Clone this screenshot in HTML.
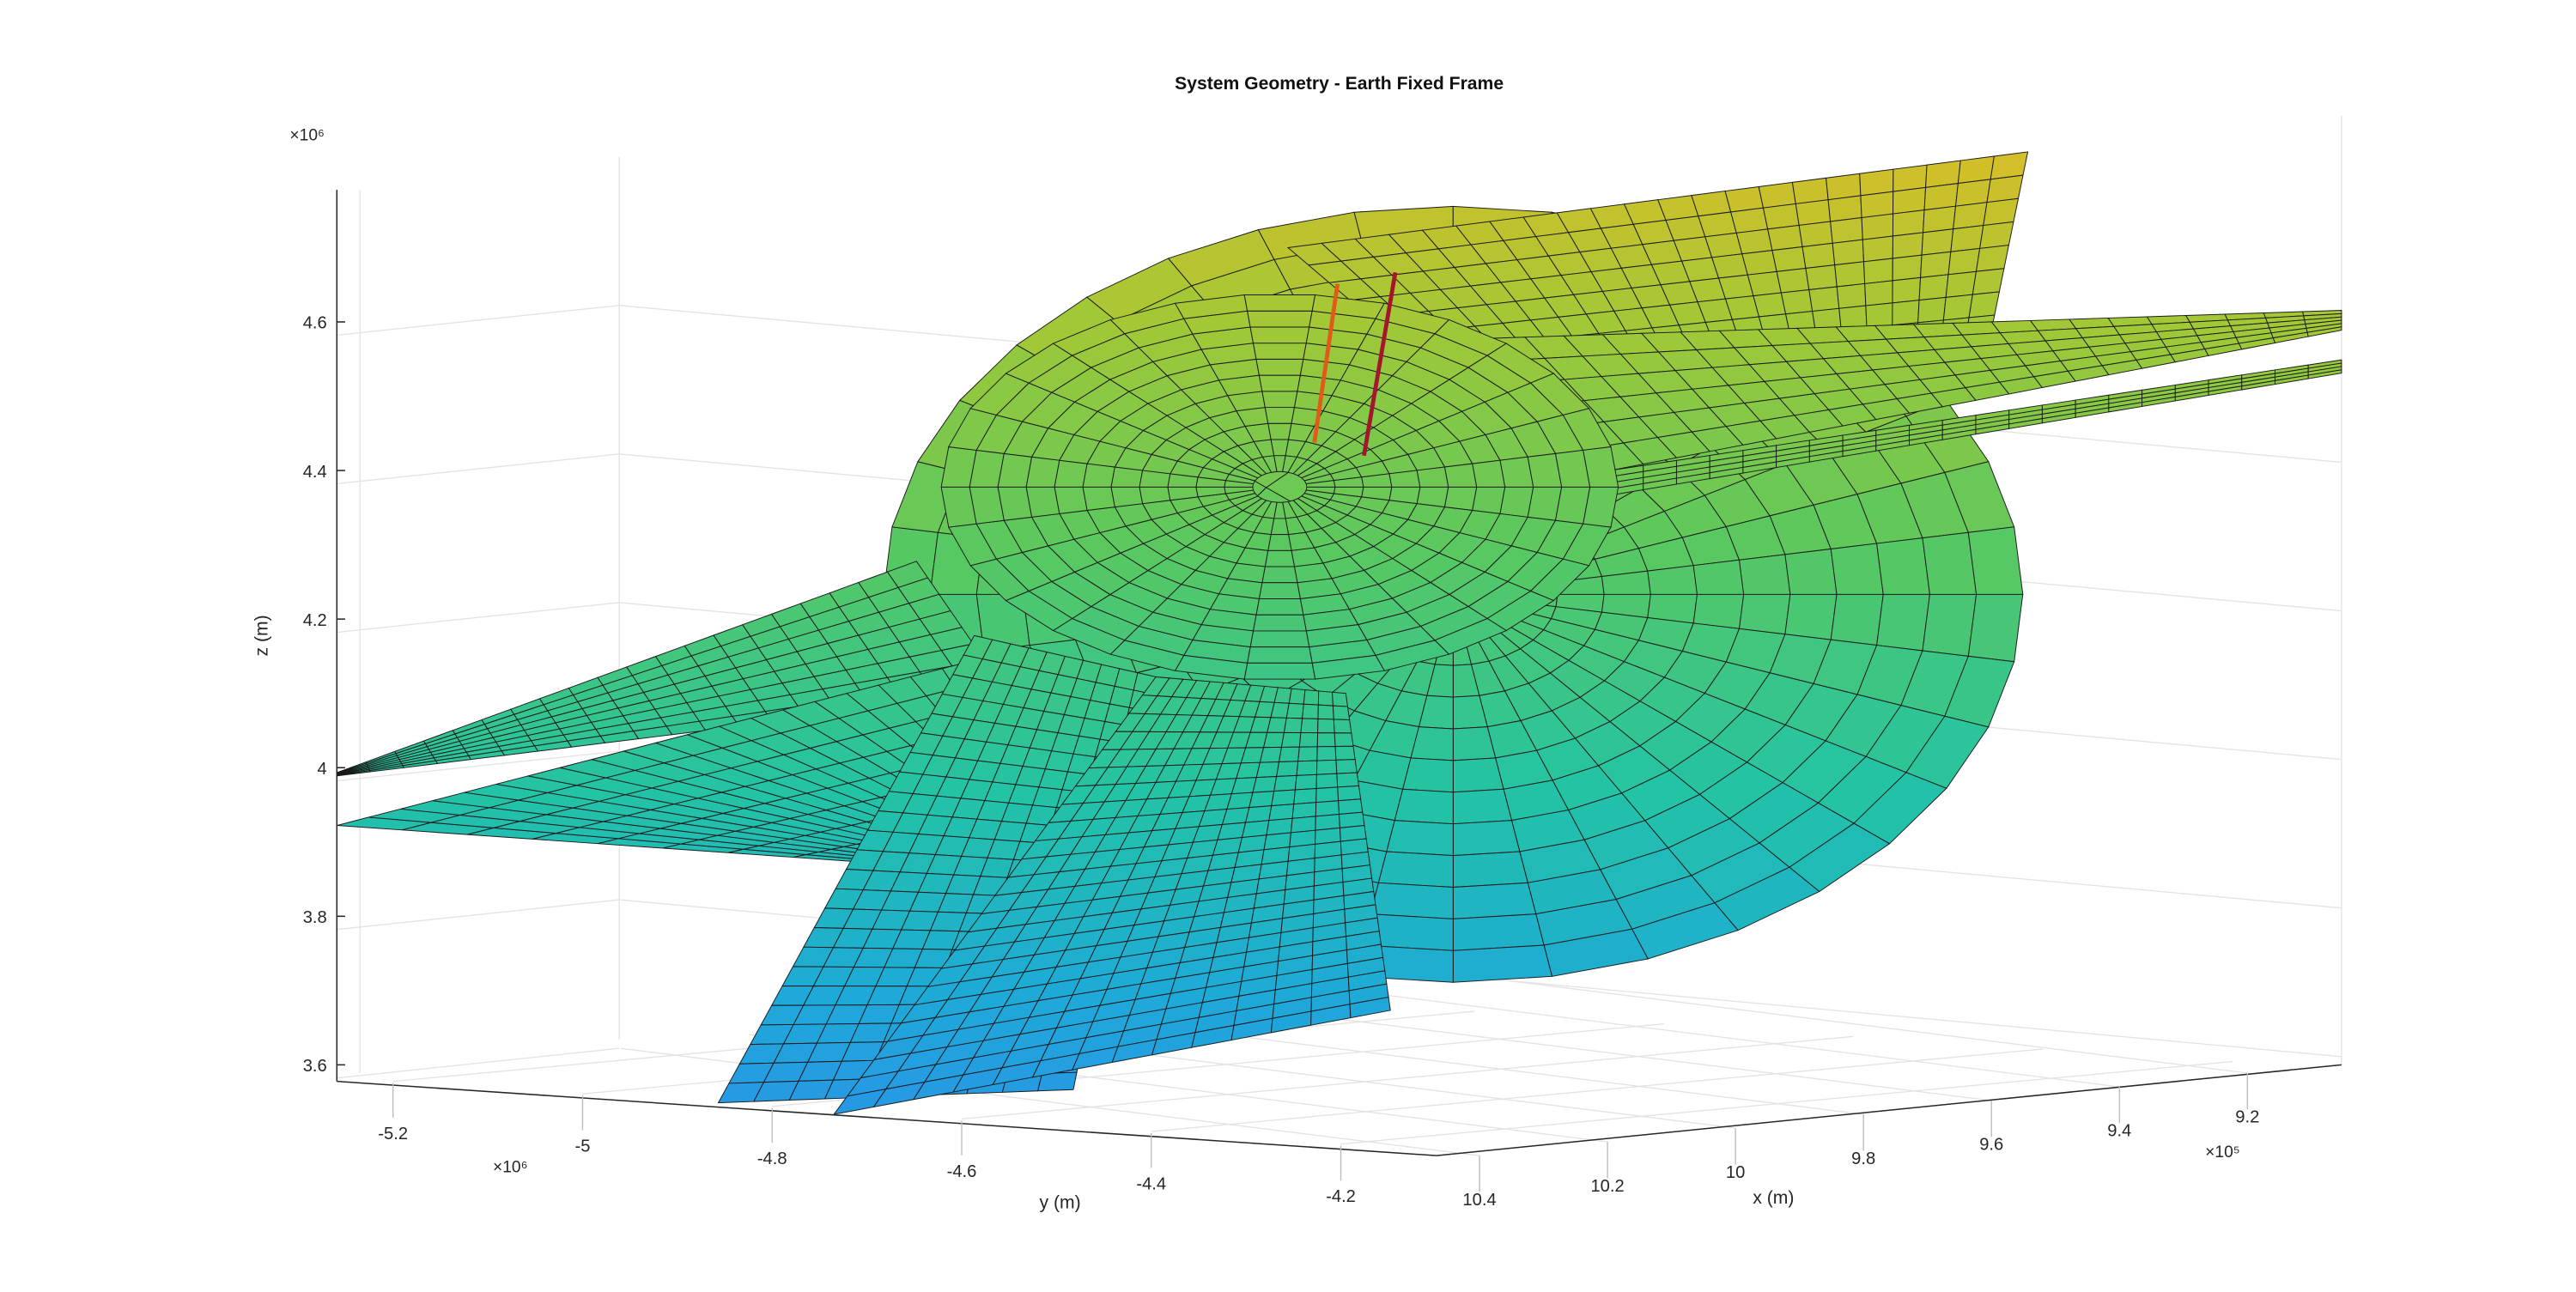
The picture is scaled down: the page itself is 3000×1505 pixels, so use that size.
<!DOCTYPE html>
<html><head><meta charset="utf-8">
<style>
html,body{margin:0;padding:0;background:#fff;}
svg{display:block;font-family:"Liberation Sans",sans-serif;}
</style></head>
<body>
<svg id="chart" width="3000" height="1505" viewBox="0 0 1560 782.6" xmlns="http://www.w3.org/2000/svg">
<rect width="1560" height="782.6" fill="#fff"/>
<g id="grid" stroke="#e3e3e3" stroke-width="0.7" fill="none"></g>
<g id="surf"></g>
<g id="axes"></g>
<text x="811" y="54" text-anchor="middle" font-size="11" font-weight="bold" fill="#111">System Geometry - Earth Fixed Frame</text>
</svg>
<script>
const zTicks=["4.6","4.4","4.2","4","3.8","3.6"];
const yTicks=["-5.2","-5","-4.8","-4.6","-4.4","-4.2"];
const yTickVals=[-5.2,-5.0,-4.8,-4.6,-4.4,-4.2];
const xTicks=["10.4","10.2","10","9.8","9.6","9.4","9.2"];
const xTickVals=[10.4,10.2,10.0,9.8,9.6,9.4,9.2];
const NS="http://www.w3.org/2000/svg";
function mk(tag,attrs,parent){const e=document.createElementNS(NS,tag);for(const k in attrs)e.setAttribute(k,attrs[k]);parent.appendChild(e);return e;}
const axes=document.getElementById('axes'),grid=document.getElementById('grid'),surf=document.getElementById('surf');
const yAx=v=>{const t=(v+5.2)/1.0;return [238+t*(812-238),655+t*38];};
const xAx=v=>{const t=(10.4-v)/1.2;return [896+t*(1361-896),700-t*50];};
const zAx=v=>375+(4.2-v)*450;
for(let i=0;i<zTicks.length;i++){const y=zAx(parseFloat(zTicks[i]));mk('line',{x1:204,y1:y+8,x2:375,y2:y-10,},grid);if(y+85<=645)mk('line',{x1:375,y1:y-10,x2:1418,y2:y+85,},grid);}
mk('line',{x1:375,y1:95,x2:375,y2:630},grid);mk('line',{x1:1418,y1:70,x2:1418,y2:645},grid);mk('line',{x1:218,y1:115,x2:218,y2:650},grid);
xTickVals.forEach(v=>{const [x,y]=xAx(v);mk('line',{x1:x,y1:y,x2:x-520,y2:y-65},grid);});
yTickVals.forEach(v=>{const [x,y]=yAx(v);mk('line',{x1:x,y1:y,x2:x+540,y2:y-50},grid);});
function col(y){const stops=[[90,[215,190,40]],[200,[160,200,55]],[330,[90,200,95]],[480,[35,195,165]],[600,[30,170,215]],[680,[40,150,230]]];
 if(y<=stops[0][0])return 'rgb('+stops[0][1]+')';for(let i=1;i<stops.length;i++){if(y<=stops[i][0]){const t=(y-stops[i-1][0])/(stops[i][0]-stops[i-1][0]);const a=stops[i-1][1],b=stops[i][1];return `rgb(${a.map((c,j)=>Math.round(c+(b[j]-c)*t)).join(',')})`;}}return 'rgb(40,150,230)';}
function quadMesh(name,P,nu,nv){const g=mk('g',{},surf);
 const pt=(u,v)=>{const [a,b,c,d]=P;return [(1-u)*(1-v)*a[0]+u*(1-v)*b[0]+u*v*c[0]+(1-u)*v*d[0],(1-u)*(1-v)*a[1]+u*(1-v)*b[1]+u*v*c[1]+(1-u)*v*d[1]];};
 for(let i=0;i<nu;i++)for(let j=0;j<nv;j++){const q=[pt(i/nu,j/nv),pt((i+1)/nu,j/nv),pt((i+1)/nu,(j+1)/nv),pt(i/nu,(j+1)/nv)];
  const cy=(q[0][1]+q[2][1])/2;mk('polygon',{points:q.map(p=>p.join(',')).join(' '),fill:col(cy),stroke:'#1a1a1a','stroke-width':0.5},g);}}
function polarMesh(name,cx,cy,rx,ry,r0,nr,na){const g=mk('g',{},surf);
 for(let i=0;i<nr;i++)for(let j=0;j<na;j++){const r1=r0+(1-r0)*i/nr,r2=r0+(1-r0)*(i+1)/nr,a1=2*Math.PI*j/na,a2=2*Math.PI*(j+1)/na;
  const q=[[r1,a1],[r2,a1],[r2,a2],[r1,a2]].map(([r,a])=>[cx+rx*r*Math.cos(a),cy+ry*r*Math.sin(a)]);
  const yy=(q[0][1]+q[2][1])/2;mk('polygon',{points:q.map(p=>p.join(',')).join(' '),fill:col(yy),stroke:'#1a1a1a','stroke-width':0.5},g);}}
polarMesh('back-surface',880,360,345,235,0.02,12,36);
quadMesh('upper-right-wing',[[780,150],[1228,92],[1205,205],[880,235]],22,8);
quadMesh('right-wing-upper',[[900,205],[1418,188],[1418,200],[975,285]],22,6);
quadMesh('right-wing-lower',[[975,285],[1418,218],[1418,226],[975,300]],22,4);
quadMesh('left-wing-upper',[[204,468],[555,340],[610,420],[204,470]],20,8);
quadMesh('left-wing-lower',[[204,500],[590,400],[640,500],[520,522]],20,8);
polarMesh('central-disk',775,295,205,117,0.08,11,30);
quadMesh('curtain-left',[[590,385],[700,410],[650,660],[435,668]],10,24);
quadMesh('curtain-right',[[700,410],[815,420],[842,612],[505,675]],14,24);
mk('line',{x1:810,y1:172,x2:796,y2:268,stroke:'#e05a1a','stroke-width':2.5,},surf);
mk('line',{x1:845,y1:165,x2:826,y2:276,stroke:'#a3162e','stroke-width':2.5,},surf);
mk('line',{x1:204,y1:115,x2:204,y2:655,stroke:'#262626','stroke-width':0.8},axes);
mk('line',{x1:204,y1:655,x2:870,y2:700,stroke:'#262626','stroke-width':0.8},axes);
mk('line',{x1:870,y1:700,x2:1418,y2:645,stroke:'#262626','stroke-width':0.8},axes);
zTicks.forEach(t=>{const y=zAx(parseFloat(t));mk('line',{x1:204,y1:y,x2:209,y2:y,stroke:'#262626','stroke-width':0.8},axes);
 const e=mk('text',{x:198,y:y+4,'text-anchor':'end','font-size':10.5,fill:'#262626'},axes);e.textContent=t;});
yTicks.forEach((t,i)=>{const [x,y]=yAx(yTickVals[i]);mk('line',{x1:x,y1:y+1,x2:x,y2:y+22,stroke:'#bbb','stroke-width':0.7},axes);
 const e=mk('text',{x:x,y:y+35,'text-anchor':'middle','font-size':10.5,fill:'#262626'},axes);e.textContent=t;});
xTicks.forEach((t,i)=>{const [x,y]=xAx(xTickVals[i]);mk('line',{x1:x,y1:y,x2:x,y2:y+22,stroke:'#bbb','stroke-width':0.7},axes);
 const e=mk('text',{x:x,y:y+30,'text-anchor':'middle','font-size':10.5,fill:'#262626'},axes);e.textContent=t;});
function lbl(txt,x,y,name,extra){const e=mk('text',Object.assign({x:x,y:y,'font-size':11,fill:'#262626','text-anchor':'middle'},extra||{}),axes);e.textContent=txt;return e;}
lbl('z (m)',162,385,'z-axis-title',{transform:'rotate(-90 162 385)'});
lbl('y (m)',642,732,'y-axis-title');
lbl('x (m)',1074,729,'x-axis-title');
lbl('×10⁶',186,85,'z-exponent',{'font-size':10});
lbl('×10⁶',309,710,'y-exponent',{'font-size':10});
lbl('×10⁵',1346,701,'x-exponent',{'font-size':10});
</script>
</body></html>
